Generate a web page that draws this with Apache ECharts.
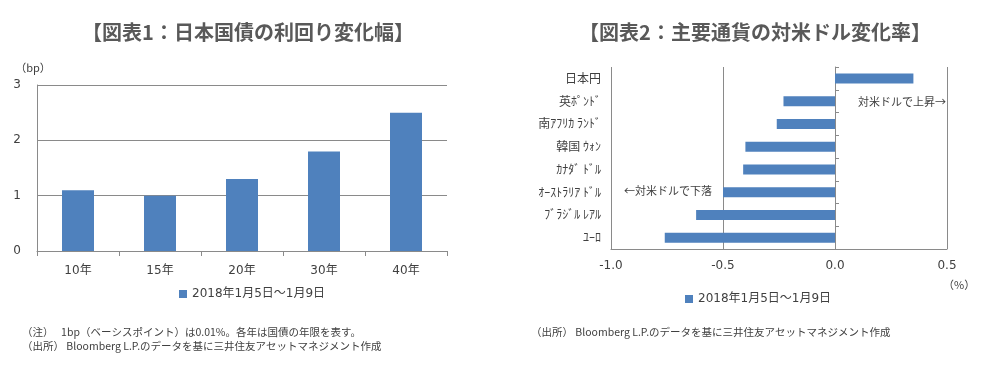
<!DOCTYPE html>
<html>
<head>
<meta charset="utf-8">
<script src="https://cdn.jsdelivr.net/npm/echarts@6/dist/echarts.min.js"></script>
<style>
html,body{margin:0;padding:0;background:#fff;}
#c{width:984px;height:383px;}
</style>
</head>
<body>
<div id="c"></div>
<script>
// ---- data ----
var seriesName = '2018年1月5日～1月9日';
var bondCategories = ['10年', '15年', '20年', '30年', '40年'];
var bondValues = [1.1, 1.0, 1.3, 1.8, 2.5];
var bondTicks = [0, 1, 2, 3];
var fxCategories = ['日本円', '英ﾎﾟﾝﾄﾞ', '南ｱﾌﾘｶ ﾗﾝﾄﾞ', '韓国 ｳｫﾝ', 'ｶﾅﾀﾞ ﾄﾞﾙ', 'ｵｰｽﾄﾗﾘｱ ﾄﾞﾙ', 'ﾌﾞﾗｼﾞﾙ ﾚｱﾙ', 'ﾕｰﾛ'];
var fxValues = [0.35, -0.23, -0.26, -0.40, -0.41, -0.50, -0.62, -0.76];
var fxTicks = [-1.0, -0.5, 0.0, 0.5];

var CJK = '"Noto Sans CJK JP", sans-serif';
var NUM = 'Verdana, "DejaVu Sans", "Noto Sans CJK JP", sans-serif';
var TXT = '#404040';
var GRID = '#8a8a8a';
var BAR = '#4F81BD';

var chart = echarts.init(document.getElementById('c'), null, {renderer: 'canvas'});
chart.setOption({
  backgroundColor: '#fff',
  animation: false,
  textStyle: {fontFamily: CJK},
  title: [
    {text: '【図表1：日本国債の利回り変化幅】', left: 243, top: 17, textAlign: 'center',
     textStyle: {fontSize: 20, fontWeight: 'bold', color: '#595959', fontFamily: CJK}},
    {text: '【図表2：主要通貨の対米ドル変化率】', left: 750, top: 17, textAlign: 'center',
     textStyle: {fontSize: 20, fontWeight: 'bold', color: '#595959', fontFamily: CJK}}
  ],
  legend: [
    {data: [seriesName], left: 174, top: 283, icon: 'rect', itemWidth: 8, itemHeight: 8, itemGap: 4,
     textStyle: {fontSize: 12, color: TXT, fontFamily: NUM}, selectedMode: false},
    {data: [seriesName], left: 680, top: 288, icon: 'rect', itemWidth: 8, itemHeight: 8, itemGap: 4,
     textStyle: {fontSize: 12, color: TXT, fontFamily: NUM}, selectedMode: false}
  ],
  grid: [
    {left: 37, top: 85, width: 410, height: 166},
    {left: 611, top: 67, width: 336, height: 182}
  ],
  xAxis: [
    {gridIndex: 0, type: 'category', data: bondCategories,
     axisLine: {lineStyle: {color: GRID}}, axisTick: {show: true, length: 5, lineStyle: {color: GRID}},
     axisLabel: {fontSize: 12, color: TXT, margin: 14, fontFamily: NUM}},
    {gridIndex: 1, type: 'value', min: fxTicks[0], max: fxTicks[fxTicks.length - 1], interval: 0.5,
     axisLine: {show: true, lineStyle: {color: GRID}}, axisTick: {show: false},
     splitLine: {show: true, lineStyle: {color: GRID}},
     axisLabel: {fontSize: 12, color: TXT, margin: 11, fontFamily: NUM,
       formatter: function (v) { return v.toFixed(1); }}}
  ],
  yAxis: [
    {gridIndex: 0, type: 'value', min: bondTicks[0], max: bondTicks[bondTicks.length - 1], interval: 1,
     name: '（bp）', nameLocation: 'end', nameGap: 12,
     nameTextStyle: {fontSize: 11, color: TXT, fontFamily: CJK, align: 'center', padding: [0, 0, 0, -8]},
     axisLine: {show: true, lineStyle: {color: GRID}}, axisTick: {show: false},
     splitLine: {show: true, lineStyle: {color: GRID}},
     axisLabel: {fontSize: 12, color: TXT, margin: 16, fontFamily: NUM}},
    {gridIndex: 1, type: 'category', data: fxCategories, inverse: true, position: 'left',
     axisLine: {show: false, onZero: false}, axisTick: {show: false}, splitLine: {show: false},
     axisLabel: {fontSize: 12, color: TXT, margin: 10, fontFamily: CJK}},
    {gridIndex: 1, type: 'category', data: fxCategories, inverse: true, position: 'right',
     axisLine: {show: true, onZero: true, lineStyle: {color: GRID}},
     axisTick: {show: true, length: 4, lineStyle: {color: GRID}},
     axisLabel: {show: false}, splitLine: {show: false}}
  ],
  series: [
    {name: seriesName, type: 'bar', xAxisIndex: 0, yAxisIndex: 0, data: bondValues,
     barWidth: 32, itemStyle: {color: BAR}},
    {name: seriesName, type: 'bar', xAxisIndex: 1, yAxisIndex: 1, data: fxValues,
     barWidth: 10, itemStyle: {color: BAR}}
  ],
  graphic: [
    {type: 'text', left: 858, top: 96, style: {text: '対米ドルで上昇→', fontSize: 11, fill: TXT, fontFamily: CJK}},
    {type: 'text', left: 624, top: 185, style: {text: '←対米ドルで下落', fontSize: 11, fill: TXT, fontFamily: CJK}},
    {type: 'text', left: 943, top: 279, style: {text: '（%）', fontSize: 11, fill: TXT, fontFamily: CJK}},
    {type: 'text', left: 22, top: 327, style: {text: '（注）　 1bp（ベーシスポイント）は0.01%。各年は国債の年限を表す。', fontSize: 10.5, fill: TXT, fontFamily: CJK}},
    {type: 'text', left: 22, top: 341, style: {text: '（出所） Bloomberg L.P.のデータを基に三井住友アセットマネジメント作成', fontSize: 10.5, fill: TXT, fontFamily: CJK}},
    {type: 'text', left: 531, top: 327, style: {text: '（出所） Bloomberg L.P.のデータを基に三井住友アセットマネジメント作成', fontSize: 10.5, fill: TXT, fontFamily: CJK}}
  ]
});
</script>
</body>
</html>
